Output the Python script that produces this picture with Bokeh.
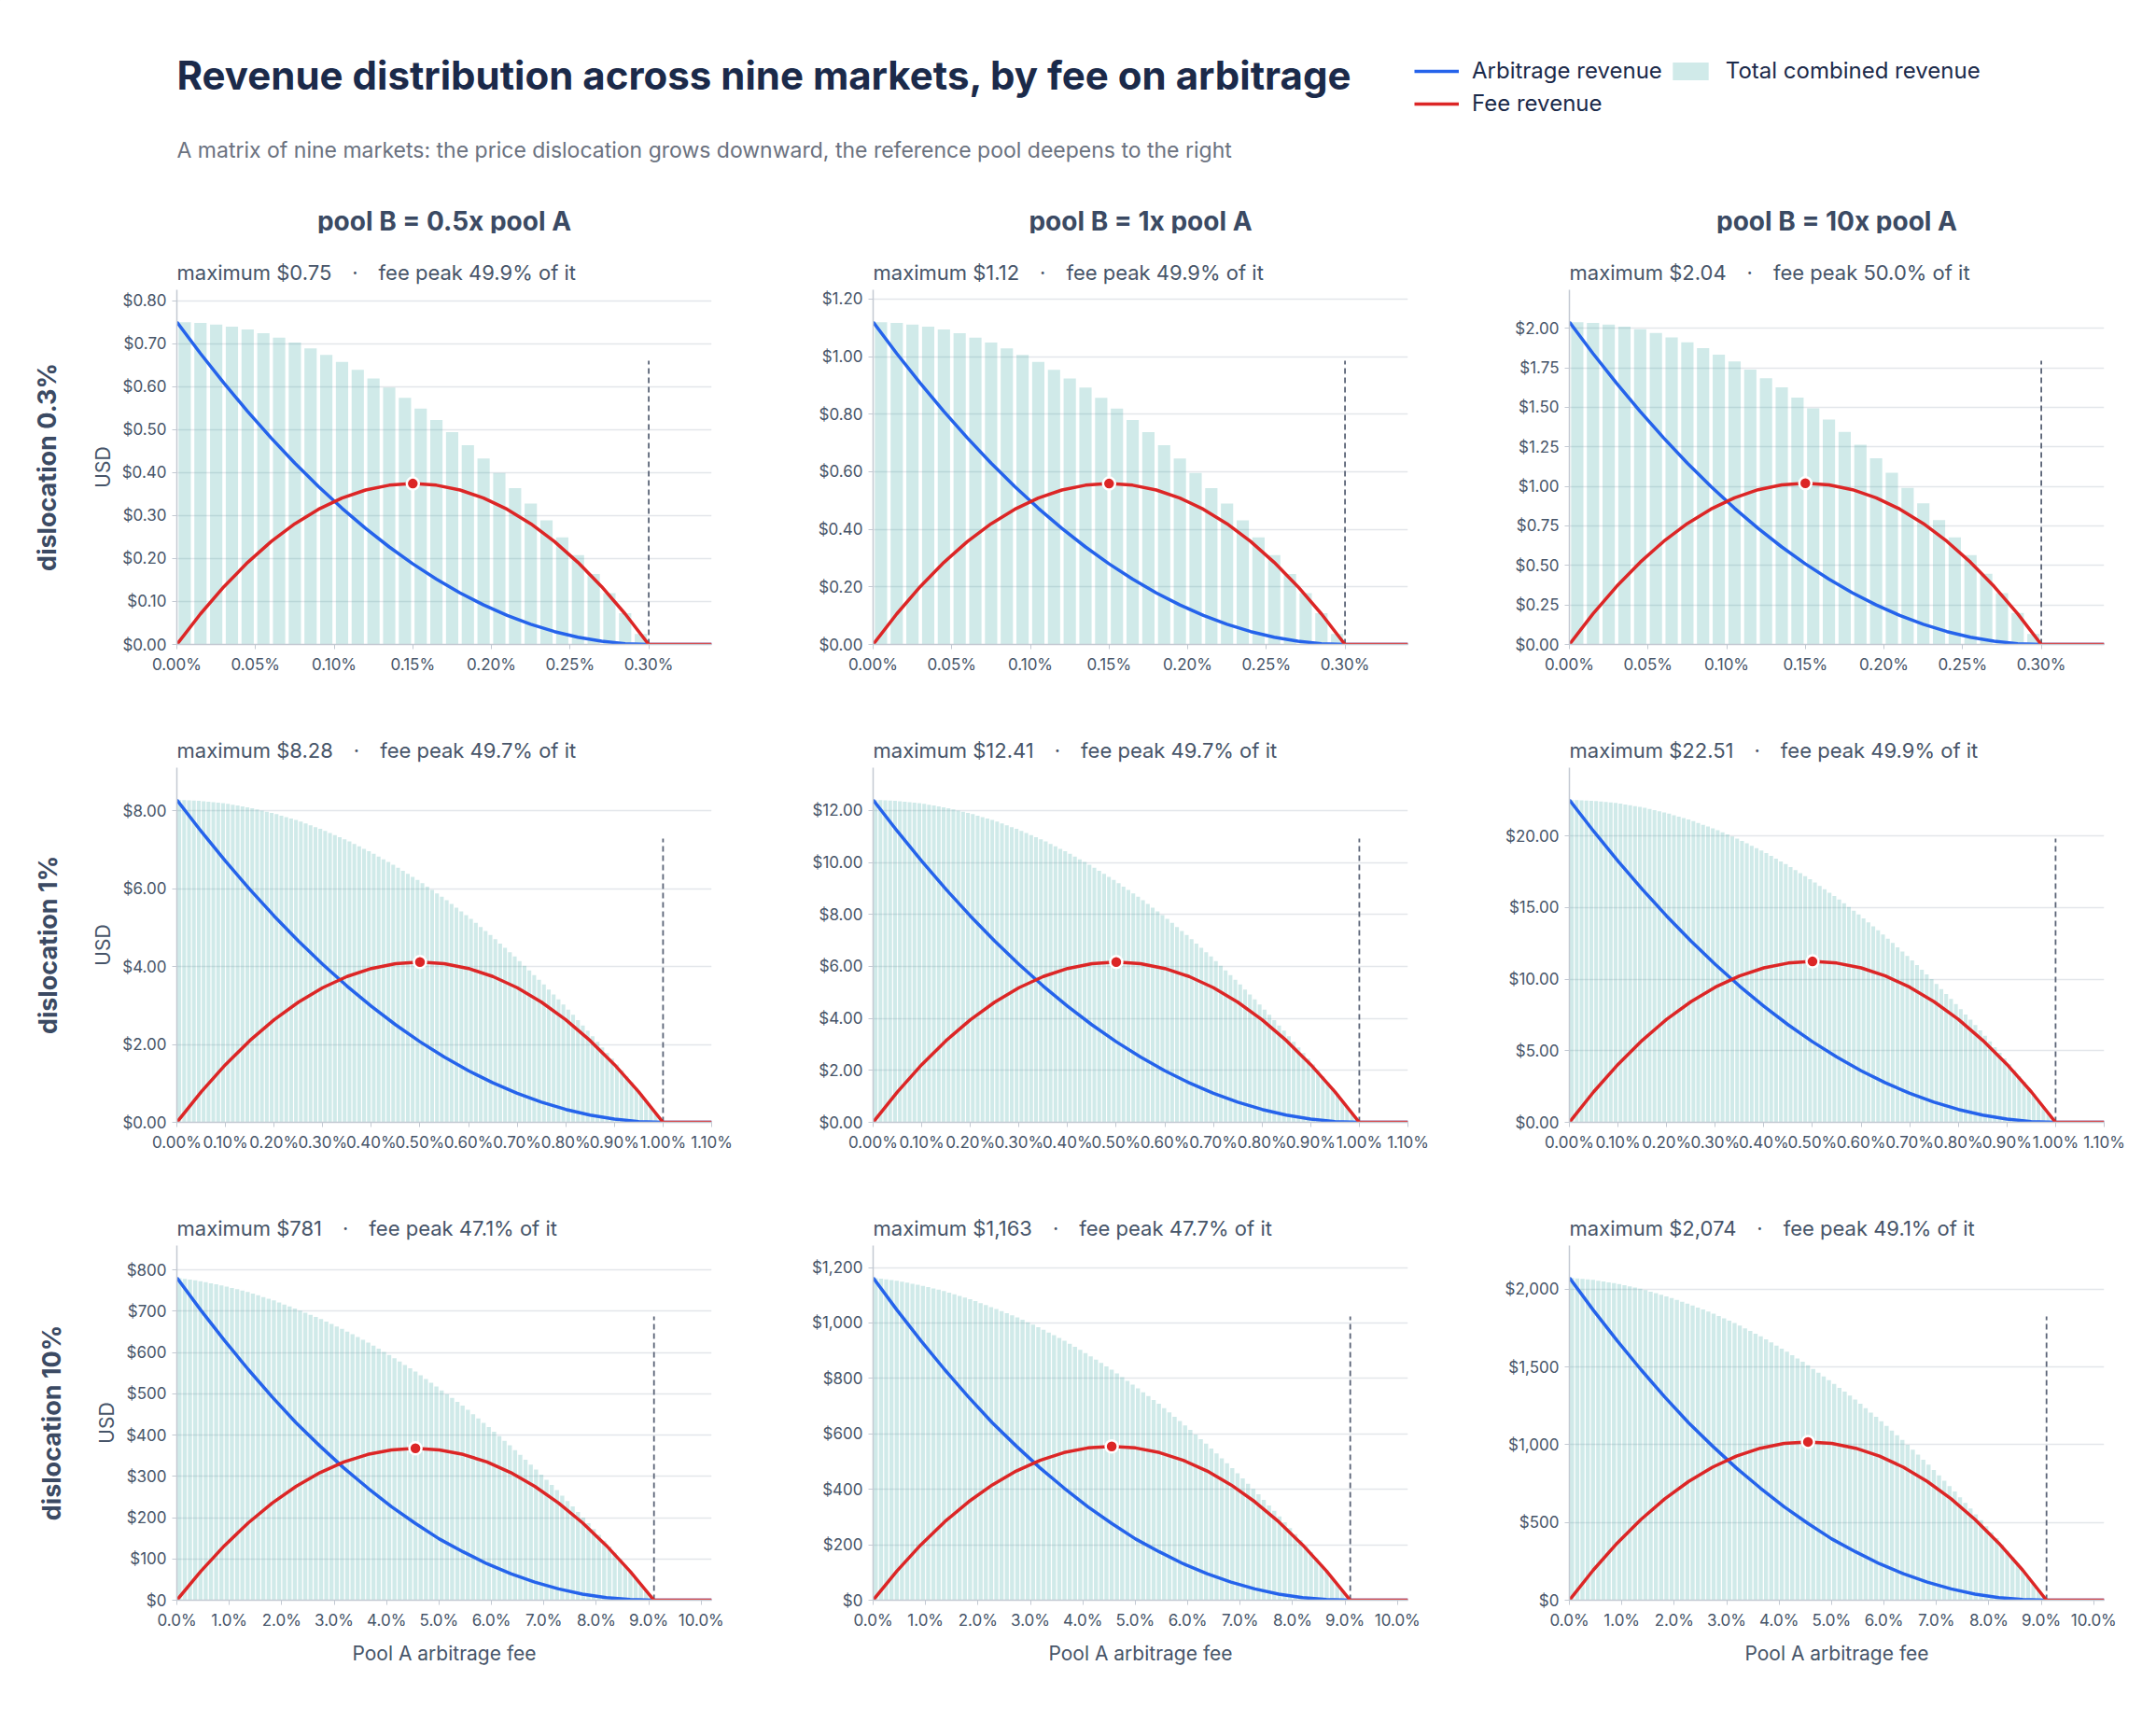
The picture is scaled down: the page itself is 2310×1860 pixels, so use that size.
import numpy as np
from bokeh.plotting import figure
from bokeh.layouts import column, row
from bokeh.models import (Range1d, Title, SingleIntervalTicker, NumeralTickFormatter,
                          Legend, CustomJSTickFormatter)
from bokeh.core.properties import value
from bokeh.embed import file_html
from bokeh.resources import INLINE

# ---------------- data ----------------
col_labels = ["pool B = 0.5x pool A", "pool B = 1x pool A", "pool B = 10x pool A"]
row_labels = ["dislocation 0.3%", "dislocation 1%", "dislocation 10%"]
maximums = [[0.75, 1.12, 2.04], [8.28, 12.41, 22.51], [781, 1163, 2074]]
max_text = [["$0.75", "$1.12", "$2.04"], ["$8.28", "$12.41", "$22.51"], ["$781", "$1,163", "$2,074"]]
fee_peak_pct = [[49.9, 49.9, 50.0], [49.7, 49.7, 49.9], [47.1, 47.7, 49.1]]
thresholds = [0.30, 1.00, 9.1]          # break-even fee, %
x_ends = [0.34, 1.10, 10.2]
bar_steps = [0.01, 0.01, 0.1]
x_tick_steps = [0.05, 0.10, 1.0]
y_tick_steps = [[0.1, 0.2, 0.25], [2, 2, 5], [100, 200, 500]]
y_formats = ["$0.00", "$0.00", "$0,0"]

# fraction of break-even fee
t_pts = [0, .05, .1, .15, .2, .25, .3, .35, .4, .45, .5, .55, .6, .65, .7, .75, .8, .85, .9, .95, 1]
# arbitrage revenue as share of maximum (per row)
arb_shape = [[1, .9025, .81, .7225, .64, .5625, .49, .4225, .36, .3025, .25, .2025, .16, .1225, .09, .0625, .04, .0225, .01, .0025, 0],
             [1, .9025, .81, .7225, .64, .5625, .49, .4225, .36, .3025, .25, .2025, .16, .1225, .09, .0625, .04, .0225, .01, .0025, 0],
             [1, .90, .805, .715, .63, .55, .478, .41, .348, .29, .238, .19, .15, .113, .082, .056, .035, .019, .008, .002, 0]]
# fee revenue relative to its peak
fee_shape = [0, .19, .36, .51, .64, .75, .84, .91, .96, .99, 1, .99, .96, .91, .84, .75, .64, .51, .36, .19, 0]

# ---------------- style ----------------
FONT = "Inter"
BLUE = "#2563eb"
RED = "#dc2626"
TEAL = "#14958f"
NAVY = "#1b2a4a"
SLATE = "#475569"
GRID = "#e3e6ea"
AXIS = "#c3c9d2"

FRAME_W, FRAME_H = 573, 380
LEFT0, LEFT = 189, 133
RIGHT = 40
TOP = 60
W = 2294
SP = "\u2003·\u2003"

# ---------------- header ----------------
HDR_H = 250
hdr = figure(width=W, height=HDR_H, x_range=Range1d(0, W), y_range=Range1d(HDR_H, 0),
             output_backend="svg", toolbar_location=None, min_border=0)
hdr.axis.visible = False
hdr.grid.visible = False
hdr.outline_line_color = None
hdr.text(x=[189], y=[80], text=["Revenue distribution across nine markets, by fee on arbitrage"],
         text_font=value(FONT), text_font_size="42px", text_font_style="bold",
         text_color=NAVY, text_baseline="middle")
hdr.text(x=[189], y=[160], text=["A matrix of nine markets: the price dislocation grows downward, the reference pool deepens to the right"],
         text_font=value(FONT), text_font_size="23px", text_color="#6b7280", text_baseline="middle")
col_centers = [189 + FRAME_W / 2, 802 + LEFT + FRAME_W / 2, 802 + 746 + LEFT + FRAME_W / 2]
hdr.text(x=col_centers, y=[236] * 3, text=col_labels, text_font=value(FONT), text_font_size="28px",
         text_font_style="bold", text_color="#3b4a63", text_align="center", text_baseline="middle")
r1 = hdr.line(x=[-100, -90], y=[-100, -100], line_color=BLUE, line_width=3.5)
r2 = hdr.line(x=[-100, -90], y=[-100, -100], line_color=RED, line_width=3.5)
r3 = hdr.vbar(x=[-100], top=[-100], bottom=[-110], width=1, fill_color=TEAL, fill_alpha=0.2, line_color=None)
leg = Legend(items=[("Arbitrage revenue", [r1]), ("Fee revenue", [r2]), ("Total combined revenue", [r3])],
             location=(1515, 125), orientation="vertical", nrows=2,
             label_text_font=FONT, label_text_font_size="24px", label_text_color=NAVY,
             glyph_width=48, glyph_height=24, spacing=6, label_standoff=14,
             background_fill_alpha=0, border_line_color=None, padding=4, margin=0)
hdr.add_layout(leg, "center")

# ---------------- panels ----------------
rows = []
for i in range(3):
    figs = []
    thr = thresholds[i]
    t = np.array(t_pts)
    arb_s = np.array(arb_shape[i])
    fee_s = np.array(fee_shape)
    for j in range(3):
        m = maximums[i][j]
        fee_peak = fee_peak_pct[i][j] / 100.0
        arb = arb_s * m
        fee = fee_s * fee_peak * m
        x = t * thr
        xs = np.concatenate([x, [x_ends[i]]])
        arb_l = np.concatenate([arb, [0]])
        fee_l = np.concatenate([fee, [0]])
        step = bar_steps[i]
        bx = np.arange(0, thr - 1e-9, step) + step / 2
        btop = np.interp(bx, x, arb + fee)

        left = LEFT0 if j == 0 else LEFT
        bottom = 120 if i == 2 else 72
        width = left + FRAME_W + RIGHT
        height = TOP + FRAME_H + bottom
        p = figure(width=width, height=height, frame_width=FRAME_W, frame_height=FRAME_H,
                   x_range=Range1d(0, x_ends[i]), y_range=Range1d(0, m * 1.10),
                   output_backend="svg", toolbar_location=None,
                   min_border_left=left, min_border_right=RIGHT, min_border_top=TOP,
                   min_border_bottom=bottom)
        p.outline_line_color = None
        p.xgrid.visible = False
        p.ygrid.grid_line_color = GRID
        p.ygrid.grid_line_width = 1.5
        p.xaxis.ticker = SingleIntervalTicker(interval=x_tick_steps[i])
        dec = 2 if i < 2 else 1
        p.xaxis.formatter = CustomJSTickFormatter(code=f"return tick.toFixed({dec}) + '%';")
        p.yaxis.ticker = SingleIntervalTicker(interval=y_tick_steps[i][j])
        p.yaxis.formatter = NumeralTickFormatter(format=y_formats[i])
        for ax in (p.xaxis, p.yaxis):
            ax.axis_line_color = AXIS
            ax.axis_line_width = 1.5
            ax.major_tick_line_color = AXIS
            ax.major_tick_out = 5
            ax.major_tick_in = 0
            ax.minor_tick_line_color = None
            ax.major_label_text_font = FONT
            ax.major_label_text_font_size = "17px"
            ax.major_label_text_color = SLATE
            ax.axis_label_text_font = FONT
            ax.axis_label_text_font_style = "normal"
            ax.axis_label_text_color = SLATE
            ax.axis_label_text_font_size = "21px"
        p.yaxis.major_label_standoff = 6
        p.xaxis.major_label_standoff = 6

        p.vbar(x=bx, top=btop, width=step * 0.78, fill_color=TEAL, fill_alpha=0.2, line_color=None)
        p.segment(x0=[thr], y0=[0], x1=[thr], y1=[0.88 * m], line_color="#5b6477",
                  line_width=1.8, line_dash="6 4")
        p.line(xs, arb_l, line_color=BLUE, line_width=3.5)
        p.line(xs, fee_l, line_color=RED, line_width=3.5)
        k = int(np.argmax(fee))
        p.scatter([x[k]], [fee[k]], size=13, fill_color=RED, line_color="white", line_width=2.5)

        p.title = Title(text=f"maximum {max_text[i][j]}{SP}fee peak {fee_peak_pct[i][j]:.1f}% of it",
                        text_font=FONT, text_font_size="22px", text_font_style="normal",
                        text_color=SLATE, align="left", offset=0, standoff=12)
        if j == 0:
            p.yaxis.axis_label = "USD"
            p.add_layout(Title(text=row_labels[i], text_font=FONT, text_font_size="27px",
                               text_font_style="bold", text_color="#3b4a63", align="center",
                               standoff=55), "left")
        if i == 2:
            p.xaxis.axis_label = "Pool A arbitrage fee"
            p.xaxis.axis_label_standoff = 10
        figs.append(p)
    rows.append(row(*figs, spacing=0))

layout = column(hdr, *rows, spacing=0)
open("out.html", "w").write(file_html(layout, INLINE))
